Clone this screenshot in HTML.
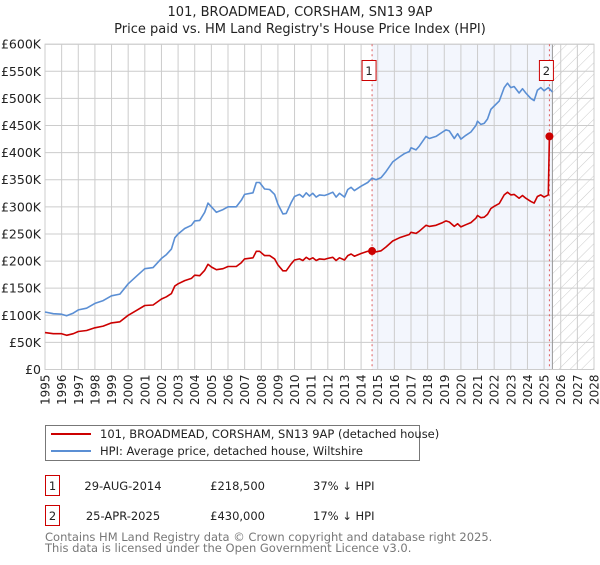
<!DOCTYPE html>
<html><head><meta charset="utf-8"><style>
body{margin:0;background:#fff;font-family:"Liberation Sans","DejaVu Sans",sans-serif;}
svg text{font-family:"DejaVu Sans","Liberation Sans",sans-serif;}
</style></head><body>
<svg id="chart" width="600" height="560" viewBox="0 0 600 560" xmlns="http://www.w3.org/2000/svg">
<defs>
<pattern id="hatch" patternUnits="userSpaceOnUse" width="8" height="8" patternTransform="rotate(45)">
<line x1="0" y1="0" x2="0" y2="8" stroke="#ccc" stroke-width="1"/>
</pattern>
</defs>
<text x="300" y="16" text-anchor="middle" font-size="13" fill="#222">101, BROADMEAD, CORSHAM, SN13 9AP</text>
<text x="300" y="33" text-anchor="middle" font-size="13" fill="#222">Price paid vs. HM Land Registry's House Price Index (HPI)</text>
<g id="plot"></g>
<g>
<rect x="45.5" y="425.5" width="374" height="35" fill="#fff" stroke="#777"/>
<line x1="51" y1="434" x2="91" y2="434" stroke="#cc0000" stroke-width="2"/>
<text x="100" y="438" font-size="11.5" fill="#222">101, BROADMEAD, CORSHAM, SN13 9AP (detached house)</text>
<line x1="51" y1="451" x2="91" y2="451" stroke="#5b8fd4" stroke-width="2"/>
<text x="100" y="455" font-size="11.5" fill="#222">HPI: Average price, detached house, Wiltshire</text>
</g>
<g>
<rect x="45.5" y="475.5" width="14" height="20" fill="#fff" stroke="#cc0000"/>
<text x="52.5" y="490" text-anchor="middle" font-size="11.5" fill="#222">1</text>
<text x="123" y="490" text-anchor="middle" font-size="11.5" fill="#222">29-AUG-2014</text>
<text x="265" y="490" text-anchor="end" font-size="11.5" fill="#222">£218,500</text>
<text x="313" y="490" font-size="11.5" fill="#222">37% ↓ HPI</text>
<rect x="45.5" y="505.5" width="14" height="20" fill="#fff" stroke="#cc0000"/>
<text x="52.5" y="520" text-anchor="middle" font-size="11.5" fill="#222">2</text>
<text x="123" y="520" text-anchor="middle" font-size="11.5" fill="#222">25-APR-2025</text>
<text x="265" y="520" text-anchor="end" font-size="11.5" fill="#222">£430,000</text>
<text x="313" y="520" font-size="11.5" fill="#222">17% ↓ HPI</text>
</g>
<text x="45" y="541" font-size="11.5" fill="#777">Contains HM Land Registry data © Crown copyright and database right 2025.</text>
<text x="45" y="552" font-size="11.5" fill="#777">This data is licensed under the Open Government Licence v3.0.</text>
</svg>
<script>
const yTicks=[0,50,100,150,200,250,300,350,400,450,500,550,600];
const yTickLabels=["£0","£50K","£100K","£150K","£200K","£250K","£300K","£350K","£400K","£450K","£500K","£550K","£600K"];
const xYears=[1995,1996,1997,1998,1999,2000,2001,2002,2003,2004,2005,2006,2007,2008,2009,2010,2011,2012,2013,2014,2015,2016,2017,2018,2019,2020,2021,2022,2023,2024,2025,2026,2027,2028];
const hpiYears=[1995.0,1995.5,1996.0,1996.3,1996.7,1997.0,1997.5,1998.0,1998.5,1999.0,1999.5,2000.0,2000.5,2001.0,2001.5,2002.0,2002.3,2002.6,2002.8,2003.0,2003.4,2003.8,2004.0,2004.3,2004.6,2004.8,2005.0,2005.3,2005.7,2006.0,2006.5,2006.8,2007.0,2007.5,2007.7,2007.9,2008.2,2008.5,2008.8,2009.0,2009.3,2009.5,2009.8,2010.0,2010.3,2010.5,2010.7,2010.9,2011.1,2011.3,2011.5,2011.8,2012.0,2012.3,2012.5,2012.7,2013.0,2013.2,2013.4,2013.6,2014.0,2014.4,2014.66,2014.9,2015.2,2015.5,2015.9,2016.3,2016.6,2016.9,2017.0,2017.3,2017.5,2017.9,2018.1,2018.5,2018.9,2019.1,2019.3,2019.6,2019.8,2020.0,2020.3,2020.6,2020.9,2021.0,2021.2,2021.4,2021.6,2021.8,2022.0,2022.3,2022.6,2022.8,2023.0,2023.2,2023.5,2023.7,2023.9,2024.2,2024.4,2024.6,2024.8,2025.0,2025.25,2025.5];
const hpiValues=[106,103,102,99,104,110,113,122,127,136,139,158,172,186,188,205,212,222,243,250,260,266,274,275,290,307,300,290,295,300,300,312,323,326,345,345,333,332,323,305,287,288,308,319,323,318,326,320,325,318,322,321,323,327,318,325,318,332,336,330,338,345,353,350,354,365,383,392,398,402,409,405,412,430,426,430,438,442,440,426,435,425,432,438,450,458,452,454,462,480,486,495,520,528,520,522,510,518,510,500,496,515,520,514,520,512];
const propYears=[1995.0,1995.5,1996.0,1996.3,1996.7,1997.0,1997.5,1998.0,1998.5,1999.0,1999.5,2000.0,2000.5,2001.0,2001.5,2002.0,2002.3,2002.6,2002.8,2003.0,2003.4,2003.8,2004.0,2004.3,2004.6,2004.8,2005.0,2005.3,2005.7,2006.0,2006.5,2006.8,2007.0,2007.5,2007.7,2007.9,2008.2,2008.5,2008.8,2009.0,2009.3,2009.5,2009.8,2010.0,2010.3,2010.5,2010.7,2010.9,2011.1,2011.3,2011.5,2011.8,2012.0,2012.3,2012.5,2012.7,2013.0,2013.2,2013.4,2013.6,2014.0,2014.4,2014.66,2014.9,2015.2,2015.5,2015.9,2016.3,2016.6,2016.9,2017.0,2017.3,2017.5,2017.9,2018.1,2018.5,2018.9,2019.1,2019.3,2019.6,2019.8,2020.0,2020.3,2020.6,2020.9,2021.0,2021.2,2021.4,2021.6,2021.8,2022.0,2022.3,2022.6,2022.8,2023.0,2023.2,2023.5,2023.7,2023.9,2024.2,2024.4,2024.6,2024.8,2025.0,2025.25,2025.32];
const propValues=[68,66,66,63,66,70,72,77,80,86,88,100,109,118,119,130,134,140,154,158,164,168,174,173,183,194,189,184,186,190,190,197,204,206,218,218,210,210,204,193,182,182,195,202,204,201,207,203,206,201,204,203,205,207,201,206,202,210,213,209,214,218,218.5,217,219,226,237,243,246,249,253,251,255,266,264,266,271,274,272,264,269,263,267,271,279,284,280,281,286,297,301,306,322,327,322,323,316,321,316,310,307,319,322,318,322,430];
const saleYears=[2014.66,2025.32];
const saleValues=[218.5,430];
const saleLabels=["1","2"];
const dataEndYear=2025.5;

const NS="http://www.w3.org/2000/svg";
const L=45,R=594,T=44.2,B=369.5,Y0=1995,Y1=2028,VMAX=600;
const x=y=>L+(y-Y0)/(Y1-Y0)*(R-L);
const yv=v=>B-v/VMAX*(B-T);
const g=document.getElementById('plot');
function mk(tag,attrs,parent){const e=document.createElementNS(NS,tag);for(const k in attrs)e.setAttribute(k,attrs[k]);(parent||g).appendChild(e);return e;}

const area=mk('rect',{x:L,y:T,width:R-L,height:B-T,fill:'#fff'});


const shade=mk('rect',{x:x(saleYears[0]),y:T,width:x(dataEndYear)-x(saleYears[0]),height:B-T,fill:'#f3f6fd'});


const hatch=mk('rect',{x:x(dataEndYear),y:T,width:R-x(dataEndYear),height:B-T,fill:'url(#hatch)'});



yTicks.forEach((v,i)=>{
  const ln=mk('line',{x1:L,x2:R,y1:yv(v),y2:yv(v),stroke:'#ccc','stroke-width':1});
  
  
  const t=mk('text',{x:L-4,y:yv(v)+4.5,'text-anchor':'end','font-size':12.5,fill:'#222'});
  t.textContent=yTickLabels[i];
  
  
});
xYears.forEach(yr=>{
  const ln=mk('line',{x1:x(yr),x2:x(yr),y1:T,y2:B,stroke:'#ccc','stroke-width':1});
  
  
  const tx=x(yr)+4.5,ty=B+5;
  const t=mk('text',{x:tx,y:ty,'text-anchor':'end','font-size':12,fill:'#222',transform:`rotate(-90 ${tx} ${ty})`});
  t.textContent=yr;
  
  
});
const endLine=mk('line',{x1:x(dataEndYear),x2:x(dataEndYear),y1:T,y2:B,stroke:'#999','stroke-width':1});


const border=mk('rect',{x:L,y:T,width:R-L,height:B-T,fill:'none',stroke:'#ccc'});



saleYears.forEach((yr,i)=>{
  const d=mk('line',{x1:x(yr),x2:x(yr),y1:T,y2:B,stroke:'#e06060','stroke-width':1,'stroke-dasharray':'2,3'});
  
  
});

const hpiPath=mk('path',{d:hpiYears.map((yr,i)=>(i?'L':'M')+x(yr).toFixed(1)+','+yv(hpiValues[i]).toFixed(1)).join(''),fill:'none',stroke:'#5b8fd4','stroke-width':1.6,'stroke-linejoin':'round'});


const propPath=mk('path',{d:propYears.map((yr,i)=>(i?'L':'M')+x(yr).toFixed(1)+','+yv(propValues[i]).toFixed(1)).join(''),fill:'none',stroke:'#cc0000','stroke-width':1.6,'stroke-linejoin':'round'});



saleYears.forEach((yr,i)=>{
  const c=mk('circle',{cx:x(yr),cy:yv(saleValues[i]),r:4,fill:'#cc0000'});
  
  
  const bx=x(yr)-10;
  const r=mk('rect',{x:bx,y:60.5,width:14,height:20,fill:'#fff',stroke:'#cc0000'});
  
  
  const t=mk('text',{x:bx+7,y:75,'text-anchor':'middle','font-size':11.5,fill:'#222'});
  t.textContent=saleLabels[i];
  
  
});
</script>
</body></html>
